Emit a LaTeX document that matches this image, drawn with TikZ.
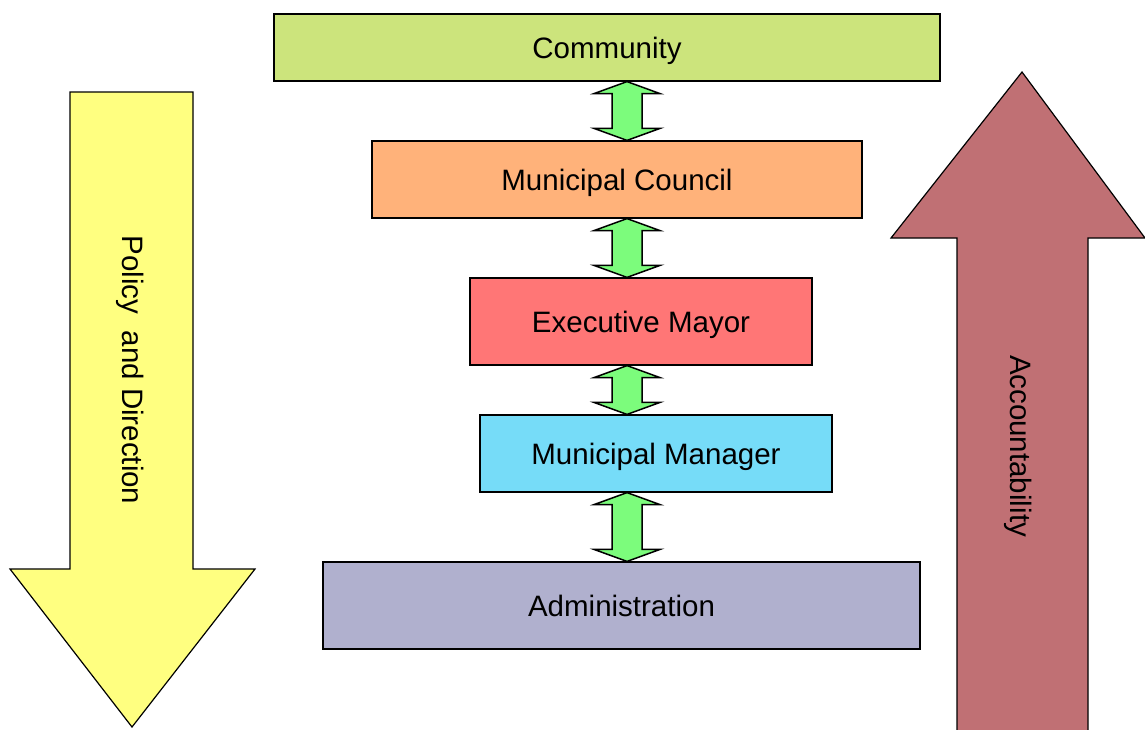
\documentclass[tikz,border=0pt]{standalone}
\usepackage{fontspec}
\setmainfont{Liberation Sans}
\usetikzlibrary{calc}
\definecolor{cCommunity}{RGB}{204,228,124}
\definecolor{cCouncil}{RGB}{255,178,122}
\definecolor{cMayor}{RGB}{255,118,118}
\definecolor{cManager}{RGB}{118,220,248}
\definecolor{cAdmin}{RGB}{176,176,206}
\definecolor{cYellow}{RGB}{255,255,128}
\definecolor{cRed}{RGB}{192,112,116}
\definecolor{cGreen}{RGB}{124,252,124}
\tikzset{
  orgbox/.style={draw=black, line width=1.2pt, inner sep=0pt, align=center,
    text depth=0pt, font=\fontsize{29.5}{34}\selectfont},
  dbl/.style={draw=black, line width=1.5pt, fill=cGreen, line join=miter},
  bigarrow/.style={draw=black, line width=1.2pt, line join=miter},
  arrowlabel/.style={font=\fontsize{29.5}{34}\selectfont, rotate=-90, inner sep=0pt}
}
\newcommand\dblarrow[2]{%
  \path[dbl] let \p1=(#1.south), \p2=(#2.north) in
    (627pt,\y1) -- (660pt,{\y1-12pt}) -- (642pt,{\y1-12pt}) -- (642pt,{\y2+12pt})
    -- (660pt,{\y2+12pt}) -- (627pt,\y2) -- (594pt,{\y2+12pt}) -- (612pt,{\y2+12pt})
    -- (612pt,{\y1-12pt}) -- (594pt,{\y1-12pt}) -- cycle;}
\begin{document}
\begin{tikzpicture}[x=1pt,y=-1pt]
\useasboundingbox (0,0) rectangle (1145,729);
% big side arrows
\path[bigarrow, fill=cYellow] (70,92) -- (193,92) -- (193,569) -- (255,569) -- (132,727)
  -- (10,569) -- (70,569) -- cycle;
\path[bigarrow, fill=cRed] (957,735) -- (957,238) -- (891,238) -- (1022,72) -- (1145,238)
  -- (1088,238) -- (1088,735) -- cycle;
\node[arrowlabel] (policy) at (130,370) {Policy\ \ and Direction};
\node[arrowlabel] (acc) at (1018,446) {Accountability};
% boxes
\node[orgbox, fill=cCommunity, minimum width=666pt, minimum height=67pt] (community) at (607,47.5) {Community};
\node[orgbox, fill=cCouncil, minimum width=490pt, minimum height=77pt] (council) at (617,179.5) {Municipal Council};
\node[orgbox, fill=cMayor, minimum width=342pt, minimum height=87pt] (mayor) at (641,321.5) {Executive Mayor};
\node[orgbox, fill=cManager, minimum width=352pt, minimum height=77pt] (manager) at (656,453.5) {Municipal Manager};
\node[orgbox, fill=cAdmin, minimum width=597pt, minimum height=87pt] (admin) at (621.5,605.5) {Administration};
% double arrows
\dblarrow{community}{council}
\dblarrow{council}{mayor}
\dblarrow{mayor}{manager}
\dblarrow{manager}{admin}
\end{tikzpicture}
\end{document}
